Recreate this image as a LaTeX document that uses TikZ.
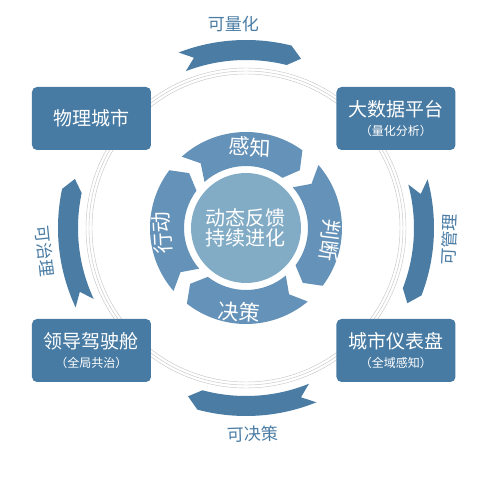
\documentclass[tikz,border=0pt]{standalone}
\usepackage{fontspec}
\setmainfont{Noto Sans CJK SC}
\usetikzlibrary{calc}

\definecolor{boxblue}{HTML}{487BA3}
\definecolor{ringblue}{HTML}{4A7CA4}
\definecolor{cycblue}{HTML}{6592B8}
\definecolor{hubblue}{HTML}{82ACC6}

% curved band arrow: colour, inner r, outer r, tail angle, head angle, tip
\newcommand{\bandarrow}[6]{%
  \pgfmathsetmacro\rmid{(#2+#3)/2}
  \pgfmathsetmacro\htip{#5-#6}
  \pgfmathsetmacro\tnotch{#4-#6}
  \fill[#1] (#4:#3pt) arc[start angle=#4, end angle=#5, radius=#3pt]
    -- (\htip:\rmid pt) -- (#5:#2pt)
    arc[start angle=#5, end angle=#4, radius=#2pt]
    -- (\tnotch:\rmid pt) -- cycle;}
\newcommand{\subtxt}[1]{{\fontsize{12}{13}\selectfont #1}}

\begin{document}
\begin{tikzpicture}[x=1pt,y=1pt,
    box/.style={fill=boxblue, rounded corners=5pt, minimum width=119pt, minimum height=63pt, text=white, inner sep=0pt, align=center, font=\fontsize{19}{19.5}\selectfont},
    ringlabel/.style={text=ringblue, font=\fontsize{17}{17}\selectfont},
    cyclabel/.style={text=white, font=\fontsize{21}{21}\selectfont}]
            \useasboundingbox (-246,-251) rectangle (234,228);
            %\draw[->] (-246,0) -- (234,0);
            
            % thin rings
            \foreach \r in {154,157,160}
                \draw[gray!45, line width=0.45pt] (0,0) circle (\r pt);
            
            % outer arrows
            \bandarrow{ringblue}{168}{188}{111}{76}{4}
            \bandarrow{ringblue}{168}{188}{15}{-21}{4}
            \bandarrow{ringblue}{168}{188}{-68}{-105}{4}
            \bandarrow{ringblue}{168}{188}{205}{168}{4}
            
            \node [ringlabel] (quant) at (-12.5,204) {可量化};
            \node [ringlabel, rotate=87] (manage) at (203,-12) {可管理};
            \node [ringlabel, rotate=2] (decidable) at (6.5,-206) {可决策};
            \node [ringlabel, rotate=-84] (govern) at (-201,-23) {可治理};
            
            % inner cycle
            \bandarrow{cycblue}{62}{96}{132}{54}{7}
            \bandarrow{cycblue}{62}{96}{41}{-37}{7}
            \bandarrow{cycblue}{62}{96}{-50}{-128}{7}
            \bandarrow{cycblue}{62}{96}{221}{143}{7}
            
            \node [circle, fill=hubblue, minimum size=110pt, inner sep=0pt, text=white, align=center, font=\fontsize{20}{20.5}\selectfont] (hub) at (0,0) {动态反馈\\持续进化};
            
            \node [cyclabel, rotate=-3] (sense) at (4,81) {感知};
            \node [cyclabel, rotate=-97] (judge) at (84,-12) {判断};
            \node [cyclabel, rotate=-5] (decide) at (-7,-84) {决策};
            \node [cyclabel, rotate=93] (act) at (-84,-5) {行动};
            
            % corner boxes
            \node [box] (phys) at (-154.5,109.5) {物理城市};
            \node [box] (data) at (150,109.5) {大数据平台\\\subtxt{（量化分析）}};
            \node [box] (dash) at (150,-122.5) {城市仪表盘\\\subtxt{（全域感知）}};
            \node [box] (cockpit) at (-154.5,-122.5) {领导驾驶舱\\\subtxt{（全局共治）}};
\end{tikzpicture}
\end{document}
